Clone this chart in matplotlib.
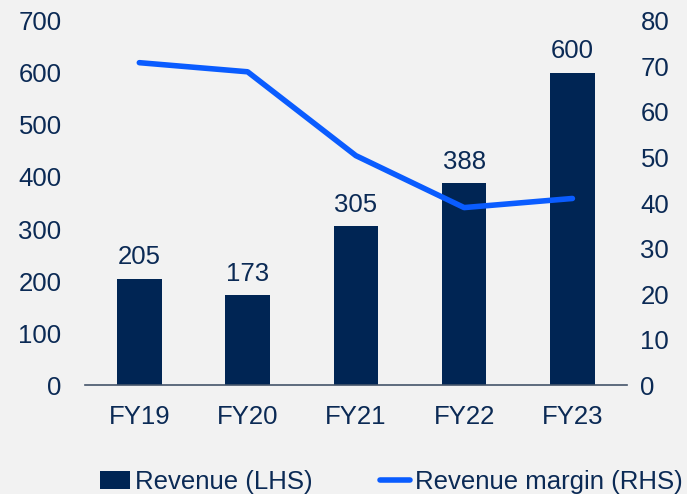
import matplotlib.pyplot as plt
import numpy as np

plt.rcParams['font.family'] = ['Liberation Sans', 'DejaVu Sans']

# data
years = ["FY19", "FY20", "FY21", "FY22", "FY23"]
revenue = [205, 173, 305, 388, 600]
margin = [70.8, 68.8, 50.4, 39.0, 41.0]

BG = "#f2f2f2"
NAVY = "#002554"
BLUE = "#0a5cff"
TXT = "#0b2a55"
FS = 18.5

fig = plt.figure(figsize=(6.87, 4.94), dpi=100, facecolor=BG)
ax = fig.add_axes([0.124, 0.22, 0.788, 0.738])
ax.set_facecolor(BG)
ax2 = ax.twinx()

x = np.arange(len(years))
bars = ax.bar(x, revenue, width=0.41, color=NAVY, label="Revenue (LHS)", zorder=2)
for xi, v in zip(x, revenue):
    ax.text(xi, v + 18, str(v), ha="center", va="bottom", fontsize=FS, color=TXT)

ln, = ax2.plot(x, margin, color=BLUE, lw=4, label="Revenue margin (RHS)",
               solid_capstyle="round", zorder=3)

ax.set_xlim(-0.5, 4.5)
ax.set_ylim(0, 700)
ax.set_yticks(range(0, 701, 100))
ax2.set_ylim(0, 80)
ax2.set_yticks(range(0, 81, 10))
ax.set_xticks(x)
ax.set_xticklabels(years)

for a in (ax, ax2):
    for s in a.spines.values():
        s.set_visible(False)
    a.tick_params(length=0, labelsize=FS, labelcolor=TXT)
ax.spines["bottom"].set_visible(True)
ax.spines["bottom"].set_color("#44546a")
ax.spines["bottom"].set_linewidth(1.2)
ax.tick_params(axis="y", pad=17)
ax.tick_params(axis="x", pad=14)
ax2.tick_params(axis="y", pad=10)

fig.legend([bars, ln], ["Revenue (LHS)", "Revenue margin (RHS)"],
           loc="center left", bbox_to_anchor=(0.1456, 0.024), ncol=2,
           frameon=False, fontsize=FS, labelcolor=TXT, borderpad=0, borderaxespad=0,
           handlelength=1.17, handletextpad=0.2, columnspacing=2.6)

fig.savefig("out.png", dpi=100, facecolor=BG)
